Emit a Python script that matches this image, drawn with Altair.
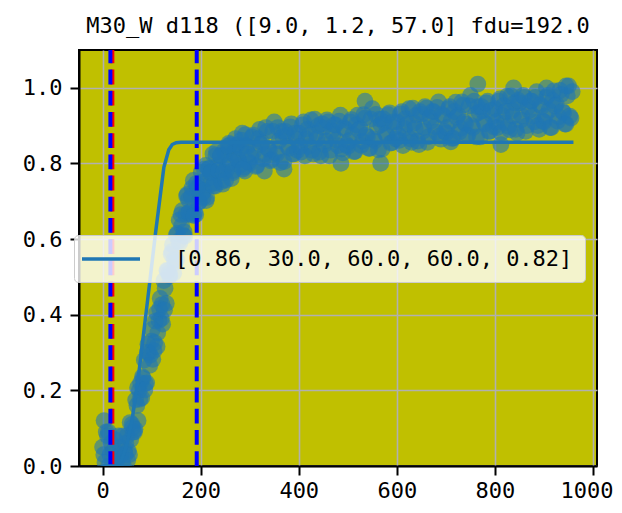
import altair as alt
import pandas as pd

FONT = "DejaVu Sans Mono"
TITLE = "M30_W d118 ([9.0, 1.2, 57.0] fdu=192.0"
LEGEND_LABEL = "[0.86, 30.0, 60.0, 60.0, 0.82]"

# scatter observations, first set (x every 5 units from 0)
obs_x = list(range(0, 960, 5))
obs_y = [
    0.05, 0.01, 0.08, 0.03, 0.00, 0.07, 0.02, 0.05, 0.01, 0.04,
    0.08, 0.03, 0.11, 0.09, 0.16, 0.20, 0.18, 0.28, 0.22, 0.30,
    0.33, 0.305, 0.405, 0.385, 0.39, 0.49, 0.43, 0.51, 0.56, 0.51,
    0.61, 0.595, 0.665, 0.61, 0.665, 0.705, 0.665, 0.755, 0.665, 0.735,
    0.75, 0.71, 0.795, 0.76, 0.745, 0.825, 0.74, 0.795, 0.82, 0.745,
    0.825, 0.795, 0.85, 0.775, 0.82, 0.85, 0.795, 0.88, 0.78, 0.845,
    0.80, 0.87, 0.835, 0.795, 0.89, 0.855, 0.825, 0.885, 0.835, 0.81,
    0.91, 0.825, 0.86, 0.885, 0.805, 0.875, 0.84, 0.905, 0.825, 0.865,
    0.88, 0.83, 0.91, 0.865, 0.845, 0.915, 0.825, 0.88, 0.90, 0.82,
    0.895, 0.86, 0.91, 0.835, 0.877, 0.902, 0.847, 0.928, 0.828, 0.89,
    0.845, 0.91, 0.876, 0.832, 0.928, 0.893, 0.859, 0.92, 0.87, 0.84,
    0.945, 0.86, 0.896, 0.917, 0.838, 0.908, 0.874, 0.934, 0.855, 0.895,
    0.91, 0.861, 0.937, 0.893, 0.874, 0.945, 0.856, 0.907, 0.928, 0.85,
    0.93, 0.895, 0.946, 0.871, 0.912, 0.937, 0.883, 0.963, 0.864, 0.925,
    0.88, 0.945, 0.911, 0.867, 0.962, 0.928, 0.893, 0.954, 0.904, 0.875,
    0.98, 0.895, 0.93, 0.95, 0.87, 0.94, 0.905, 0.965, 0.885, 0.925,
    0.945, 0.895, 0.971, 0.927, 0.908, 0.978, 0.889, 0.94, 0.96, 0.88,
    0.96, 0.925, 0.975, 0.90, 0.94, 0.965, 0.91, 0.99, 0.89, 0.95,
    0.91, 0.975, 0.94, 0.895, 0.992, 0.957, 0.923, 0.983, 0.934, 0.904,
    1.005, 0.92,
]
# second set (x every 5 units from 2.5)
obs2_x = [v + 2.5 for v in range(0, 960, 5)]
obs2_y = [
    0.03, 0.09, 0.00, 0.06, 0.04, 0.01, 0.08, 0.03, 0.00, 0.06,
    0.04, 0.07, 0.09, 0.175, 0.12, 0.22, 0.232, 0.218, 0.322, 0.293,
    0.282, 0.383, 0.352, 0.443, 0.375, 0.47, 0.515, 0.505, 0.585, 0.537,
    0.615, 0.59, 0.675, 0.607, 0.718, 0.672, 0.735, 0.67, 0.735, 0.70,
    0.72, 0.785, 0.71, 0.787, 0.78, 0.748, 0.832, 0.783, 0.752, 0.833,
    0.782, 0.853, 0.76, 0.827, 0.848, 0.81, 0.862, 0.79, 0.848, 0.805,
    0.817, 0.875, 0.792, 0.865, 0.85, 0.812, 0.895, 0.84, 0.807, 0.885,
    0.83, 0.895, 0.802, 0.87, 0.885, 0.845, 0.897, 0.825, 0.88, 0.835,
    0.845, 0.902, 0.82, 0.89, 0.875, 0.835, 0.917, 0.865, 0.83, 0.905,
    0.85, 0.915, 0.82, 0.886, 0.902, 0.862, 0.912, 0.838, 0.894, 0.85,
    0.86, 0.916, 0.831, 0.902, 0.888, 0.848, 0.929, 0.875, 0.84, 0.917,
    0.865, 0.93, 0.836, 0.902, 0.918, 0.878, 0.929, 0.854, 0.91, 0.865,
    0.875, 0.931, 0.847, 0.918, 0.904, 0.865, 0.946, 0.892, 0.859, 0.937,
    0.885, 0.95, 0.856, 0.921, 0.937, 0.897, 0.948, 0.873, 0.929, 0.885,
    0.895, 0.95, 0.866, 0.937, 0.922, 0.883, 0.963, 0.909, 0.874, 0.952,
    0.90, 0.965, 0.87, 0.935, 0.95, 0.91, 0.96, 0.885, 0.94, 0.897,
    0.91, 0.965, 0.881, 0.952, 0.938, 0.898, 0.979, 0.925, 0.89, 0.967,
    0.915, 0.98, 0.885, 0.95, 0.965, 0.925, 0.975, 0.90, 0.955, 0.912,
    0.925, 0.98, 0.895, 0.966, 0.952, 0.912, 0.993, 0.938, 0.904, 0.979,
    0.925, 0.99,
]
# third set, ramp region (x every 5 units from 41.25)
obs3_x = [v + 1.25 for v in range(40, 300, 5)]
obs3_y = [
    0.08, 0.03, 0.015, 0.115, 0.102, 0.097, 0.207, 0.177, 0.236, 0.201,
    0.301, 0.266, 0.361, 0.326, 0.316, 0.416, 0.427, 0.412, 0.517, 0.502,
    0.567, 0.546, 0.545, 0.65, 0.635, 0.619, 0.714, 0.669, 0.712, 0.662,
    0.747, 0.697, 0.777, 0.727, 0.702, 0.786, 0.776, 0.741, 0.821, 0.781,
    0.821, 0.776, 0.756, 0.846, 0.805, 0.781, 0.866, 0.81, 0.841, 0.785,
    0.876, 0.825,
]
extra_x = [3, 12, 330, 370, 486, 535, 567, 710, 765, 812, 838, 905, 945]
extra_y = [0.12, 0.09, 0.78, 0.785, 0.80, 0.965, 0.80, 0.857, 1.01, 0.85, 1.0, 1.0, 1.005]

# fitted curve
curve_x = [0, 30, 40, 50, 60, 73, 92, 108, 125, 135, 142, 150, 160, 960]
curve_y = [0.0, 0.0, 0.02, 0.06, 0.12, 0.235, 0.44, 0.616, 0.79, 0.836, 0.85, 0.855, 0.856, 0.856]

# vertical markers
vline_x = [20, 16, 192]
vline_color = ["red", "blue", "blue"]

x_ticks = [0, 200, 400, 600, 800, 1000]
y_ticks = [0.0, 0.2, 0.4, 0.6, 0.8, 1.0]

pts = pd.DataFrame({
    "x": obs_x + obs2_x + obs3_x + extra_x,
    "y": obs_y + obs2_y + obs3_y + extra_y,
})
cur = pd.DataFrame({"x": curve_x, "y": curve_y, "label": LEGEND_LABEL})
vl = pd.DataFrame({"x": vline_x, "c": vline_color, "order": [0, 1, 2]})

W, H = 518, 416
xs = alt.Scale(domain=[-48, 1008], nice=False, zero=False)
ys = alt.Scale(domain=[0, 1.1], nice=False, zero=False)
xax = alt.Axis(values=x_ticks, title=None, format="d", labelPadding=5,
               labelFlush=5, labelFlushOffset=20)
yax = alt.Axis(values=y_ticks, title=None, format=".1f", labelPadding=8)

scatter = alt.Chart(pts).mark_circle(size=280, opacity=0.6, color="#1f77b4", clip=True).encode(
    x=alt.X("x:Q", scale=xs, axis=xax),
    y=alt.Y("y:Q", scale=ys, axis=yax),
)

rules = alt.Chart(vl).mark_rule(strokeWidth=4, strokeDash=[14.8, 6.4]).encode(
    x=alt.X("x:Q", scale=xs),
    y=alt.value(H),
    y2=alt.value(0),
    color=alt.Color("c:N", scale=None),
    order=alt.Order("order:Q"),
)

line = alt.Chart(cur).mark_line(strokeWidth=3.5, clip=True).encode(
    x=alt.X("x:Q", scale=xs),
    y=alt.Y("y:Q", scale=ys),
    color=alt.Color(
        "label:N",
        scale=alt.Scale(range=["#1f77b4"]),
        legend=alt.Legend(
            title=None,
            orient="none",
            legendX=-5,
            legendY=185,
            padding=12,
            fillColor="rgba(255,255,255,0.8)",
            strokeColor="#cccccc",
            cornerRadius=4,
            symbolType="M-1.6,0H4.2",
            symbolSize=400,
            symbolStrokeWidth=3.5,
            symbolStrokeColor="#1f77b4",
            labelFont=FONT,
            labelFontSize=22,
            labelColor="black",
            labelOffset=65,
            labelLimit=0,
        ),
    ),
)

chart = (
    alt.layer(scatter, rules, line)
    .properties(
        width=W,
        height=H,
        autosize=alt.AutoSizeParams(type="none"),
        padding={"left": 71, "top": 42, "right": 17, "bottom": 38},
        title=alt.TitleParams(
            TITLE, font=FONT, fontSize=22, fontWeight="normal", color="black",
            anchor="middle", baseline="alphabetic", offset=8, dy=15,
        ),
    )
    .configure_view(stroke="black", strokeWidth=2, fill="#c0c000")
    .configure_axis(
        grid=True, gridColor="#b0b0b0", gridWidth=1.6,
        domainColor="black", domainWidth=2,
        tickColor="black", tickWidth=2, tickSize=9,
        labelFont=FONT, labelFontSize=22, labelColor="black",
    )
)

chart.save("out.html", embed_options={"renderer": "svg", "actions": False})
